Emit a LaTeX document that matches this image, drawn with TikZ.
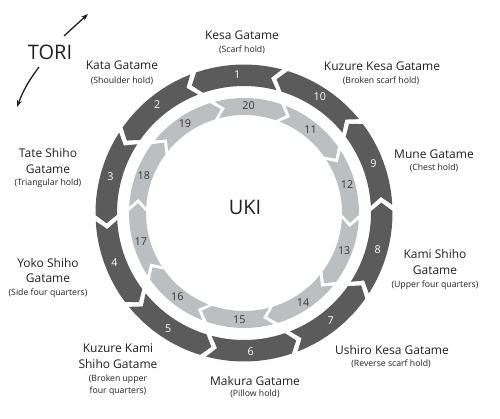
\documentclass[tikz,border=0pt]{standalone}
\usepackage{fontspec}
\setmainfont{Open Sans}
\usetikzlibrary{arrows.meta}
\definecolor{darkseg}{HTML}{5B5B5C}
\definecolor{lightseg}{HTML}{BDBEC0}
\definecolor{txt}{HTML}{231F20}
\newcommand{\ringseg}[6]{%
  \fill[#6] (#1:#4) arc[start angle=#1, end angle=#2, radius=#4]
    -- ({#2+#5}:{(#3+#4)/2}) -- (#2:#3)
    arc[start angle=#2, end angle=#1, radius=#3]
    -- ({#1+#5}:{(#3+#4)/2}) -- cycle;}
\begin{document}
\begin{tikzpicture}[x=1pt,y=1pt,
  title/.style={font=\fontsize{12}{13}\selectfont, text=txt, inner sep=0pt, text height=8.5pt, text depth=0pt},
  sub/.style={font=\fontsize{8.7}{10}\selectfont, text=txt, inner sep=0pt, text height=6.3pt, text depth=0pt},
  onum/.style={font=\fontsize{10.8}{12}\selectfont, text=white, inner sep=0pt},
  inum/.style={font=\fontsize{10.8}{12}\selectfont, text=txt!90, inner sep=0pt},
  big/.style={font=\fontsize{20}{24}\selectfont, text=txt, inner sep=0pt},
  toriarrow/.style={-{Stealth[length=7pt,width=5pt]}, line width=1.3pt, draw=txt}
]
\useasboundingbox (-244,-206) rectangle (256,213);
% outer ring (counterclockwise)
\foreach \k in {1,...,10}{
  \pgfmathsetmacro{\c}{90+36*(\k-1)+2}
  \pgfmathsetmacro{\s}{\c-18+1.2}
  \pgfmathsetmacro{\e}{\c+18-1.2}
  \ringseg{\s}{\e}{127}{148.5}{3.5}{darkseg}
  \pgfmathsetmacro{\m}{\c+0.8}
  \node[onum] (o\k) at (\m:138.5) {\k};
}
% inner ring (clockwise)
\foreach \n in {11,...,20}{
  \pgfmathsetmacro{\c}{90-36*(\n-10)-2}
  \pgfmathsetmacro{\s}{\c+18-1.2}
  \pgfmathsetmacro{\e}{\c-18+1.2}
  \ringseg{\s}{\e}{98}{115}{-4.5}{lightseg}
  \pgfmathsetmacro{\m}{\c-0.5}
  \node[inum] (i\n) at (\m:107) {\n};
}
\node[big] (uki) at (1,6) {UKI};
\node[big] (tori) at (-194,161) {TORI};
\coordinate (ta1) at (-180,177);
\coordinate (ta2) at (-156,199);
\coordinate (tb1) at (-205,146);
\coordinate (tb2) at (-227,106);
\draw[toriarrow] (ta1) -- (ta2);
\draw[toriarrow] (tb1) to[bend right=8] (tb2);
% labels
\node[title] (t1) at (-2,178) {Kesa Gatame};
\node[sub] (s1) at (-2,164) {(Scarf hold)};
\node[title] (t10) at (138,147) {Kuzure Kesa Gatame};
\node[sub] (s10) at (137,133) {(Broken scarf hold)};
\node[title] (t2) at (-122,148) {Kata Gatame};
\node[sub] (s2) at (-122,133) {(Shoulder hold)};
\node[title] (t3a) at (-196,60) {Tate Shiho};
\node[title] (t3b) at (-196,44) {Gatame};
\node[sub] (s3) at (-196,31) {(Triangular hold)};
\node[title] (t4a) at (-196,-50) {Yoko Shiho};
\node[title] (t4b) at (-196,-65) {Gatame};
\node[sub] (s4) at (-196,-79) {(Side four quarters)};
\node[title] (t9) at (190,59) {Mune Gatame};
\node[sub] (s9) at (190,46) {(Chest hold)};
\node[title] (t8a) at (191,-41) {Kami Shiho};
\node[title] (t8b) at (191,-57) {Gatame};
\node[sub] (s8) at (191,-71) {(Upper four quarters)};
\node[title] (t5a) at (-126,-135) {Kuzure Kami};
\node[title] (t5b) at (-126,-151) {Shiho Gatame};
\node[sub] (s5a) at (-126,-165) {(Broken upper};
\node[sub] (s5b) at (-126,-177) {four quarters)};
\node[title] (t6) at (11,-168) {Makura Gatame};
\node[sub] (s6) at (11,-180) {(Pillow hold)};
\node[title] (t7) at (148,-137) {Ushiro Kesa Gatame};
\node[sub] (s7) at (147,-150) {(Reverse scarf hold)};
\end{tikzpicture}
\end{document}
